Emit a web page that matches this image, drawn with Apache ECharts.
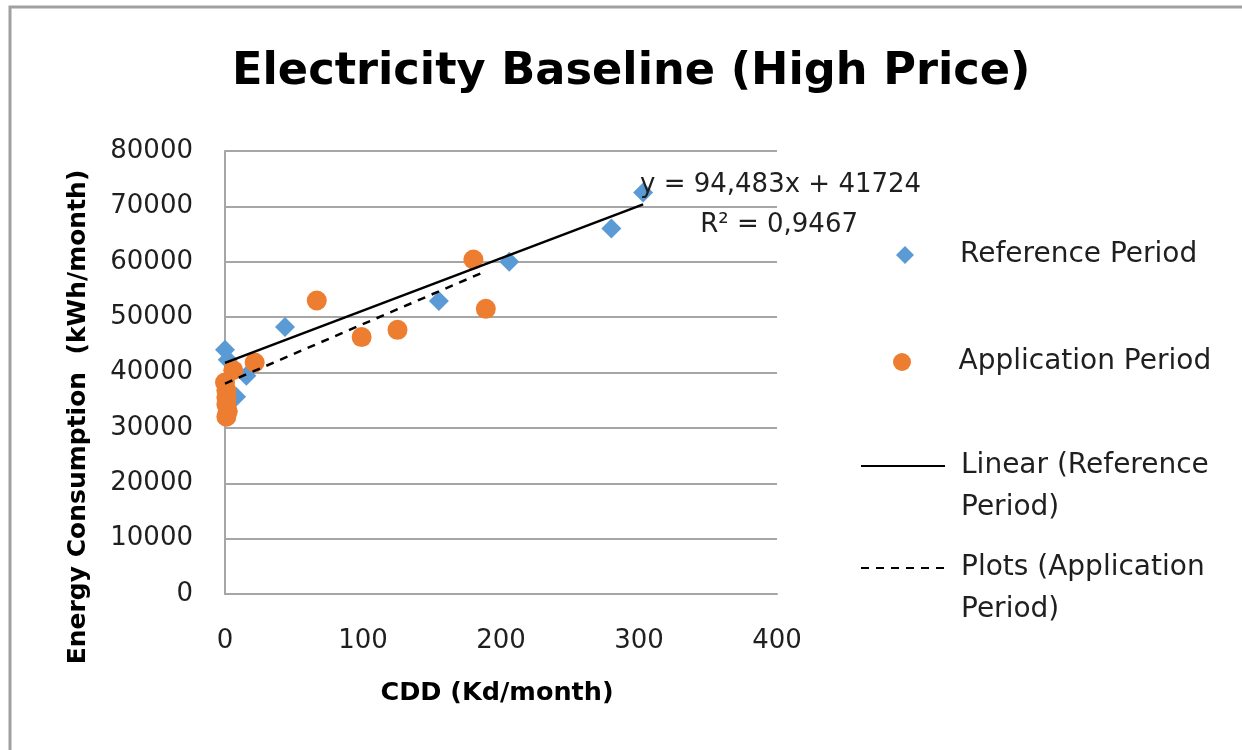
<!DOCTYPE html>
<html>
<head>
<meta charset="utf-8">
<script src="https://cdn.jsdelivr.net/npm/echarts@6/dist/echarts.min.js"></script>
<style>
  html, body { margin: 0; padding: 0; background: #ffffff; }
  #chart { width: 1242px; height: 750px; }
</style>
</head>
<body>
<div id="chart"></div>
<script>
// Monthly cooling degree days (Kd/month) and electricity use (kWh/month)
const refCDD = [0, 2, 8, 15.5, 43.5, 155, 206, 280, 303];
const refKWh = [44100, 42300, 35600, 39400, 48200, 52900, 60000, 66000, 72500];

const appCDD = [0, 1, 1, 1, 2, 1, 6, 21.5, 66.5, 99, 125, 180, 189];
const appKWh = [38200, 36800, 35500, 34200, 33000, 32000, 40400, 41800, 53000, 46400, 47700, 60400, 51500];

// Linear fit of the reference period (as printed on the chart)
const refSlope = 94.483;
const refIntercept = 41724;
const refFitX = [0, 303];

// Plotted line for the application period
const appLineX = [0, 189];
const appLineY = [38000, 58300];

const xTicks = { min: 0, max: 400, step: 100 };
const yTicks = { min: 0, max: 80000, step: 10000 };

const FONT = '"DejaVu Sans", sans-serif';
const TEXT = '#1f1f1f';
const GRID = '#a6a6a6';

const refPoints = refCDD.map((x, i) => [x, refKWh[i]]);
const appPoints = appCDD.map((x, i) => [x, appKWh[i]]);
const refFit = refFitX.map(x => [x, refSlope * x + refIntercept]);
const appLine = appLineX.map((x, i) => [x, appLineY[i]]);

const chart = echarts.init(document.getElementById('chart'), null, { renderer: 'canvas' });

function legendBlock(name, opts) {
  return Object.assign({
    data: [name],
    orient: 'vertical',
    padding: 0,
    selectedMode: false,
    textStyle: { fontSize: 28, fontFamily: FONT, color: TEXT }
  }, opts);
}

chart.setOption({
  backgroundColor: '#ffffff',
  animation: false,
  title: {
    text: 'Electricity Baseline (High Price)',
    left: 232,
    top: 50,
    padding: 0,
    textStyle: { fontSize: 44.7, fontWeight: 'bold', fontFamily: FONT, color: '#000000' }
  },
  grid: { left: 225, right: 465, top: 151, bottom: 156, containLabel: false, outerBoundsMode: 'none' },
  xAxis: {
    type: 'value',
    min: xTicks.min, max: xTicks.max, interval: xTicks.step,
    axisLine: { show: true, onZero: false, lineStyle: { color: GRID, width: 2 } },
    axisTick: { show: false },
    splitLine: { show: false },
    axisLabel: { margin: 34, fontSize: 26, fontFamily: FONT, color: TEXT },
    name: 'CDD (Kd/month)',
    nameLocation: 'middle',
    nameGap: 86,
    nameTextStyle: { fontSize: 25.5, fontWeight: 'bold', fontFamily: FONT, color: '#000000', padding: [0, 8, 0, 0] }
  },
  yAxis: {
    type: 'value',
    min: yTicks.min, max: yTicks.max, interval: yTicks.step,
    axisLine: { show: true, lineStyle: { color: GRID, width: 2 } },
    axisTick: { show: false },
    splitLine: { show: true, lineStyle: { color: GRID, width: 2 } },
    axisLabel: { margin: 32, fontSize: 26, fontFamily: FONT, color: TEXT, formatter: v => String(v) }
  },
  legend: [
    legendBlock('Reference Period', {
      left: 896, top: 241, itemWidth: 18, itemHeight: 18,
      textStyle: { fontSize: 28, fontFamily: FONT, color: TEXT, padding: [0, 0, 0, 41] }
    }),
    legendBlock('Application Period', {
      left: 893, top: 348, itemWidth: 21, itemHeight: 18, symbolKeepAspect: false,
      textStyle: { fontSize: 28, fontFamily: FONT, color: TEXT, padding: [0, 0, 0, 41] }
    }),
    legendBlock('Linear (Reference Period)', {
      left: 860, top: 403, itemWidth: 84, itemHeight: 14,
      itemStyle: { color: 'rgba(0,0,0,0)', borderWidth: 0 },
      formatter: () => '\nLinear (Reference\nPeriod)',
      textStyle: { fontSize: 28, fontFamily: FONT, color: TEXT, lineHeight: 42, padding: [0, 0, 0, 11] }
    }),
    legendBlock('Plots (Application Period)', {
      left: 860, top: 505, itemWidth: 84, itemHeight: 14,
      itemStyle: { color: 'rgba(0,0,0,0)', borderWidth: 0 },
      formatter: () => '\nPlots (Application\nPeriod)',
      textStyle: { fontSize: 28, fontFamily: FONT, color: TEXT, lineHeight: 42, padding: [0, 0, 0, 11] }
    })
  ],
  series: [
    {
      name: 'Reference Period',
      type: 'scatter',
      symbol: 'diamond',
      symbolSize: 20,
      itemStyle: { color: '#5B9BD5', opacity: 1 },
      data: refPoints,
      z: 2
    },
    {
      name: 'Application Period',
      type: 'scatter',
      symbol: 'circle',
      symbolSize: 20,
      itemStyle: { color: '#ED7D31', opacity: 1 },
      data: appPoints,
      z: 3
    },
    {
      name: 'Linear (Reference Period)',
      type: 'line',
      symbol: 'none',
      lineStyle: { color: '#000000', width: 2.5 },
      itemStyle: { color: '#000000' },
      data: refFit,
      z: 4
    },
    {
      name: 'Plots (Application Period)',
      type: 'line',
      symbol: 'none',
      lineStyle: { color: '#000000', width: 2.5, type: [8, 7] },
      itemStyle: { color: '#000000' },
      data: appLine,
      z: 4
    }
  ],
  graphic: [
    {
      type: 'rect',
      z: -10,
      shape: { x: 10, y: 7, width: 1300, height: 800 },
      style: { fill: 'none', stroke: '#a0a0a0', lineWidth: 3 }
    },
    {
      type: 'text',
      x: 78, y: 417,
      rotation: Math.PI / 2,
      style: {
        text: 'Energy Consumption  (kWh/month)',
        font: 'bold 25px "DejaVu Sans", sans-serif',
        fill: '#000000',
        textAlign: 'center', textVerticalAlign: 'middle',
        align: 'center', verticalAlign: 'middle'
      }
    },
    {
      type: 'text',
      x: 640, y: 185,
      z: 10,
      style: {
        text: 'y = 94,483x + 41724',
        font: '26px "DejaVu Sans", sans-serif',
        fill: TEXT,
        textAlign: 'left', textVerticalAlign: 'middle',
        align: 'left', verticalAlign: 'middle'
      }
    },
    {
      type: 'text',
      x: 858, y: 225,
      z: 10,
      style: {
        text: 'R² = 0,9467',
        font: '26px "DejaVu Sans", sans-serif',
        fill: TEXT,
        textAlign: 'right', textVerticalAlign: 'middle',
        align: 'right', verticalAlign: 'middle'
      }
    }
  ]
});
</script>
</body>
</html>
